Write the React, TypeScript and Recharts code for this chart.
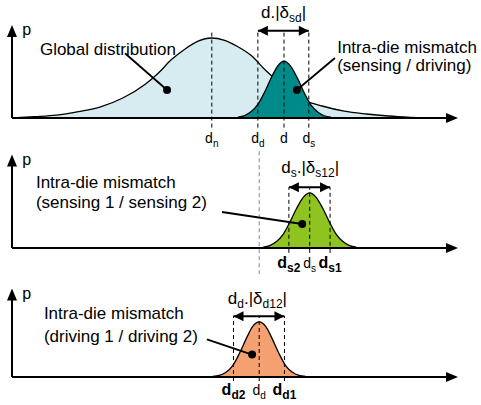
import { ComposedChart, Area, XAxis, YAxis, ReferenceLine, ReferenceDot } from "recharts"

// global distribution (panel 1)
const globalX = [0, 5, 10, 15, 20, 25, 30, 33, 36, 39, 42, 45, 48, 51, 54, 57, 60, 63, 66, 70, 75, 80, 85, 90, 93]
const globalP = [0, 0.016, 0.035, 0.08, 0.14, 0.25, 0.42, 0.56, 0.73, 0.86, 0.96, 1.0, 0.97, 0.89, 0.78, 0.61, 0.46, 0.32, 0.22, 0.15, 0.085, 0.05, 0.025, 0.008, 0]

// intra-die mismatch sensing / driving (panel 1)
const tealX = [51, 52.5, 54, 55.5, 57, 58.5, 60, 61.4, 63, 64.5, 66, 67.5, 69, 70.5, 72]
const tealP = [0.01, 0.03, 0.08, 0.17, 0.32, 0.5, 0.65, 0.71, 0.64, 0.49, 0.31, 0.16, 0.075, 0.028, 0.01]

// sensing 1 / sensing 2 (panel 2)
const greenX = [56.7, 58.2, 59.7, 61.2, 62.7, 64.2, 65.7, 67.2, 68.7, 70.2, 71.7, 73.2, 74.7, 76.2, 77.7]
const greenP = [0.01, 0.03, 0.08, 0.17, 0.32, 0.49, 0.63, 0.69, 0.63, 0.49, 0.32, 0.17, 0.08, 0.03, 0.01]

// driving 1 / driving 2 (panel 3)
const orangeX = [45.3, 46.8, 48.3, 49.8, 51.3, 52.8, 54.3, 55.8, 57.3, 58.8, 60.3, 61.8, 63.3, 64.8, 66.3]
const orangeP = [0.006, 0.02, 0.06, 0.14, 0.29, 0.47, 0.63, 0.69, 0.63, 0.47, 0.29, 0.14, 0.06, 0.02, 0.006]

// marker positions + subscripts
const topMarkX = [45.1, 55.5, 61.4, 67.0]
const topMarkSub = ["n", "d", "", "s"]
const sensMarkX = [62.5, 67.2, 71.8]
const sensMarkSub = ["s2", "s", "s1"]
const driveMarkX = [50.0, 55.8, 61.5]
const driveMarkSub = ["d2", "d", "d1"]

const FONT = "Arial, 'Liberation Sans', Helvetica, sans-serif"

const rows = (xs: number[], ps: number[]) => xs.map((x, i) => ({ x, p: ps[i] }))

const note = (id: string, x: number, y: number, body: any, anchor = "start", size = 17, weight = "normal") => (
  <ReferenceDot
    key={id}
    x={x}
    y={y}
    r={0}
    ifOverflow="visible"
    shape={(p: any) => (
      <text x={p.cx} y={p.cy} textAnchor={anchor} fontSize={size} fontWeight={weight} fontFamily={FONT} fill="#000">
        {body}
      </text>
    )}
  />
)

const subText = (main: string, sub: string, subSize: number, tail = "") => [
  <tspan key="m">{main}</tspan>,
  <tspan key="s" dy={4} fontSize={subSize}>{sub}</tspan>,
  tail ? <tspan key="t" dy={-4}>{tail}</tspan> : null,
]

const tri = (dir: string) => (p: any) => {
  const { cx, cy } = p
  let pts = ""
  if (dir === "right") pts = `${cx + 3},${cy} ${cx - 9},${cy - 5} ${cx - 9},${cy + 5}`
  if (dir === "up") pts = `${cx},${cy - 3} ${cx - 5},${cy + 9} ${cx + 5},${cy + 9}`
  if (dir === "left") pts = `${cx},${cy} ${cx + 10},${cy - 5} ${cx + 10},${cy + 5}`
  if (dir === "rightTip") pts = `${cx},${cy} ${cx - 10},${cy - 5} ${cx - 10},${cy + 5}`
  return <polygon points={pts} fill="#000" />
}

const axes = (id: string, yTop: number) => [
  <ReferenceLine key={id + "xa"} segment={[{ x: 0, y: 0 }, { x: 100, y: 0 }]} stroke="#000" strokeWidth={2} ifOverflow="visible" />,
  <ReferenceLine key={id + "ya"} segment={[{ x: 0, y: 0 }, { x: 0, y: yTop }]} stroke="#000" strokeWidth={2} ifOverflow="visible" />,
  <ReferenceDot key={id + "xh"} x={100} y={0} r={0} ifOverflow="visible" shape={tri("right")} />,
  <ReferenceDot key={id + "yh"} x={0} y={yTop} r={0} ifOverflow="visible" shape={tri("up")} />,
  note(id + "p", 2.3, yTop - 0.09, "p", "start", 16),
]

const dims = (id: string, x1: number, x2: number, y: number) => [
  <ReferenceLine key={id + "l"} segment={[{ x: x1, y }, { x: x2, y }]} stroke="#000" strokeWidth={2} ifOverflow="visible" />,
  <ReferenceDot key={id + "a"} x={x1} y={y} r={0} ifOverflow="visible" shape={tri("left")} />,
  <ReferenceDot key={id + "b"} x={x2} y={y} r={0} ifOverflow="visible" shape={tri("rightTip")} />,
]

const dashes = (id: string, xs: number[], y1: number, y2: number) =>
  xs.map((x, i) => (
    <ReferenceLine key={id + i} segment={[{ x, y: y1 }, { x, y: y2 }]} stroke="#000" strokeWidth={1} strokeDasharray="4 3" ifOverflow="visible" />
  ))

const pointer = (id: string, x1: number, y1: number, x2: number, y2: number) => [
  <ReferenceLine key={id + "l"} segment={[{ x: x1, y: y1 }, { x: x2, y: y2 }]} stroke="#000" strokeWidth={1.8} ifOverflow="visible" />,
  <ReferenceDot key={id + "d"} x={x2} y={y2} r={4} fill="#000" stroke="none" ifOverflow="visible" />,
]

function Panel({ top, height, children }: { top: number; height: number; children: any }) {
  return (
    <div style={{ position: "absolute", left: 0, top }}>
      <ComposedChart width={481} height={height} margin={{ top: 28, right: 26, bottom: height - 118, left: 12 }}>
        <XAxis type="number" dataKey="x" domain={[0, 100]} hide allowDataOverflow />
        <YAxis type="number" domain={[0, 1.125]} hide allowDataOverflow />
        {children}
      </ComposedChart>
    </div>
  )
}

const areaProps = { type: "monotone" as const, dataKey: "p", stroke: "#000", strokeWidth: 1.3, fillOpacity: 1, isAnimationActive: false, dot: false, activeDot: false }

export default function App() {
  return (
    <div style={{ position: "fixed", left: 0, top: 0, width: 481, height: 405, background: "#fff", overflow: "hidden" }}>
      <Panel top={0} height={160}>
        <Area data={rows(globalX, globalP)} fill="#d6ecf0" {...areaProps} />
        <Area data={rows(tealX, tealP)} fill="#008b8b" {...areaProps} />
        {dashes("t1", topMarkX, -0.12, 1.1)}
        {axes("a1", 1.125)}
        {dims("m1", topMarkX[1], topMarkX[3], 1.09)}
        {note("dl1", 61.3, 1.25, subText("d.|δ", "sd", 12, "|"), "middle")}
        {topMarkX.map((x, i) => note("tb" + i, x, -0.31, topMarkSub[i] ? subText("d", topMarkSub[i], 10) : "d", "middle", 14))}
        {note("g1", 6.3, 0.79, "Global distribution")}
        {note("i1", 73.4, 0.81, "Intra-die mismatch")}
        {note("i2", 73.4, 0.59, "(sensing / driving)")}
        {pointer("pg", 25.5, 0.81, 35, 0.35)}
        {pointer("pt", 72.9, 0.75, 64.3, 0.35)}
      </Panel>
      <Panel top={130} height={145}>
        <ReferenceLine segment={[{ x: 55.8, y: 1.21 }, { x: 55.8, y: -0.34 }]} stroke="#888" strokeWidth={1} strokeDasharray="4 3" ifOverflow="visible" />
        <Area data={rows(greenX, greenP)} fill="#8fc31f" {...areaProps} />
        {dashes("t2", sensMarkX, -0.06, 0.76)}
        {axes("a2", 1.13)}
        {dims("m2", sensMarkX[0], sensMarkX[2], 0.76)}
        {note("dl2", 67.3, 0.94, [<tspan key="a">d</tspan>, <tspan key="b" dy={4} fontSize={12}>s</tspan>, <tspan key="c" dy={-4}>.|δ</tspan>, <tspan key="d" dy={4} fontSize={12}>s12</tspan>, <tspan key="e" dy={-4}>|</tspan>], "middle")}
        {sensMarkX.map((x, i) =>
          note("sb" + i, x, -0.25, subText("d", sensMarkSub[i], i === 1 ? 10 : 12), "middle", i === 1 ? 14 : 16, i === 1 ? "normal" : "bold")
        )}
        {note("s1", 5.4, 0.75, "Intra-die mismatch")}
        {note("s2", 5.4, 0.5, "(sensing 1 / sensing 2)")}
        {pointer("ps", 47.4, 0.45, 65.5, 0.3)}
      </Panel>
      <Panel top={259} height={146}>
        <Area data={rows(orangeX, orangeP)} fill="#f5a070" {...areaProps} />
        {dashes("t3", driveMarkX, -0.05, 0.76)}
        {axes("a3", 1.07)}
        {dims("m3", driveMarkX[0], driveMarkX[2], 0.76)}
        {note("dl3", 55.4, 0.91, [<tspan key="a">d</tspan>, <tspan key="b" dy={4} fontSize={12}>d</tspan>, <tspan key="c" dy={-4}>.|δ</tspan>, <tspan key="d" dy={4} fontSize={12}>d12</tspan>, <tspan key="e" dy={-4}>|</tspan>], "middle")}
        {driveMarkX.map((x, i) =>
          note("db" + i, x, -0.23, subText("d", driveMarkSub[i], i === 1 ? 10 : 12), "middle", i === 1 ? 14 : 16, i === 1 ? "normal" : "bold")
        )}
        {note("r1", 7.2, 0.72, "Intra-die mismatch")}
        {note("r2", 7.2, 0.44, "(driving 1 / driving 2)")}
        {pointer("pd", 44, 0.47, 54.2, 0.28)}
      </Panel>
    </div>
  )
}
